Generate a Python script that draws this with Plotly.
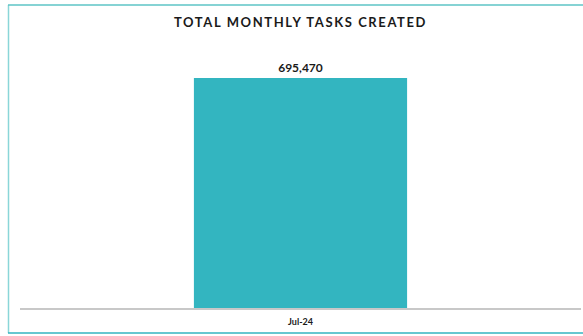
import plotly.graph_objects as go

# Monthly task totals
months = ["Jul-24"]
tasks_created = [695470]

title_text = "TOTAL MONTHLY TASKS CREATED"

BAR_COLOR = "#33B5C0"
FRAME_COLOR = "#5EC4C6"
FONT = "Lato"

W, H = 583, 336
M_L, M_R, M_T, M_B = 20, 2, 50, 28
plot_w = W - M_L - M_R
plot_h = H - M_T - M_B


def px_x(p):
    return (p - M_L) / plot_w


def px_y(p):
    return (H - M_B - p) / plot_h


fig = go.Figure(
    go.Bar(
        x=months,
        y=tasks_created,
        marker=dict(color=BAR_COLOR, line=dict(width=0)),
        width=0.38,
        text=[f"{v:,}" for v in tasks_created],
        textposition="outside",
        textfont=dict(family=FONT, size=12, color="#1a1a1a", weight="bold"),
        cliponaxis=False,
        hoverinfo="skip",
    )
)

# Outer frame: left, top and bottom edges
frame = [
    (px_x(8.5), px_y(5), px_x(8.5), px_y(333), "#8AD6D8"),
    (px_x(8), px_y(5), px_x(600), px_y(5), FRAME_COLOR),
    (px_x(8), px_y(333), px_x(600), px_y(333), BAR_COLOR),
]
for x0, y0, x1, y1, c in frame:
    fig.add_shape(type="line", xref="paper", yref="paper",
                  x0=x0, y0=y0, x1=x1, y1=y1,
                  line=dict(color=c, width=1.5))

fig.add_annotation(
    text=f'<span style="letter-spacing:1.6px">{title_text}</span>',
    xref="paper", yref="paper",
    x=px_x(300), y=px_y(22), xanchor="center", yanchor="middle",
    showarrow=False,
    font=dict(family=FONT, size=13, color="#1a1a1a", weight="bold"),
)

fig.update_layout(
    width=W, height=H,
    margin=dict(l=M_L, r=M_R, t=M_T, b=M_B),
    paper_bgcolor="white", plot_bgcolor="white",
    showlegend=False,
    bargap=0.62,
    xaxis=dict(
        showline=True, linecolor="#C8C8C8", linewidth=1.5,
        showgrid=False, ticks="", ticklabelstandoff=4,
        tickfont=dict(family=FONT, size=9, color="#1a1a1a", weight="bold"),
    ),
    yaxis=dict(visible=False, range=[0, 780000]),
)

fig.write_html("out.html")
